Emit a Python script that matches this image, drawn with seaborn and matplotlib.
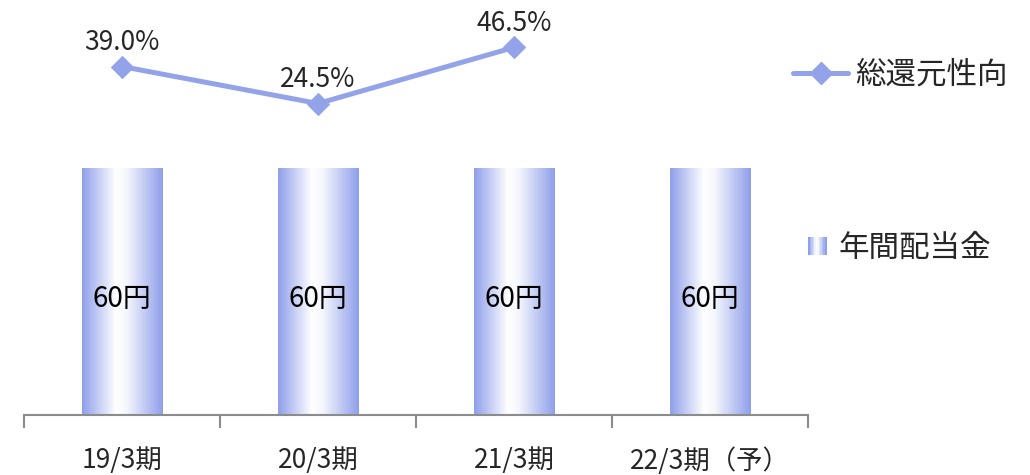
import numpy as np
import pandas as pd
import matplotlib
matplotlib.use("Agg")
import matplotlib.pyplot as plt
import seaborn as sns
from matplotlib.colors import LinearSegmentedColormap
from matplotlib.lines import Line2D
from matplotlib.patches import Rectangle
from matplotlib.legend_handler import HandlerBase

categories = ['19/3期', '20/3期', '21/3期', '22/3期（予）']
dividend = [60, 60, 60, 60]
payout = [39.0, 24.5, 46.5]
dividend_labels = ['60円', '60円', '60円', '60円']
payout_labels = ['39.0%', '24.5%', '46.5%']
series_names = ['総還元性向', '年間配当金']

sns.set_theme(style='white')
plt.rcParams['font.family'] = ['Noto Sans CJK JP', 'DejaVu Sans']

BLUE = '#8f9fea'
LINE = '#93a3ea'
cmap = LinearSegmentedColormap.from_list('g', [(0, BLUE), (0.42, '#ffffff'), (0.55, '#f6f7fd'), (1, BLUE)])

fig = plt.figure(figsize=(10.3, 4.75), dpi=100)
ax = fig.add_axes([24/1030, 60/475, 784/1030, 412/475])

df = pd.DataFrame({'cat': categories, 'val': dividend})
sns.barplot(data=df, x='cat', y='val', ax=ax, width=0.41, color=BLUE, saturation=1)

grad = np.linspace(0, 1, 256).reshape(1, -1)
for p, lab in zip(ax.patches, dividend_labels):
    x, y, w, h = p.get_x(), p.get_y(), p.get_width(), p.get_height()
    im = ax.imshow(grad, cmap=cmap, extent=[x, x + w, y, y + h], aspect='auto', zorder=2)
    im.set_clip_path(p)
    p.set_facecolor('none')
    p.set_edgecolor('none')
    ax.text(x + w / 2, y + h * 0.47, lab, ha='center', va='center', fontsize=20, color='black', zorder=3)

ax.set_xlim(-0.5, len(categories) - 0.5)
ax.set_ylim(0, 100)
ax.set_xlabel('')
ax.set_ylabel('')
ax.set_yticks([])
for s in ['top', 'left', 'right']:
    ax.spines[s].set_visible(False)
ax.spines['bottom'].set_color('#8c8c8c')
ax.spines['bottom'].set_linewidth(1.5)
ax.set_xticks(range(len(categories)))
ax.set_xticklabels(categories, fontsize=19)
ax.tick_params(axis='x', which='major', length=0, pad=23)
ax.set_xticks(np.arange(-0.5, len(categories), 1.0), minor=True)
ax.tick_params(axis='x', which='minor', length=9, width=1.5, color='#8c8c8c', bottom=True)

ax2 = ax.twinx()
sns.lineplot(x=list(range(len(payout))), y=payout, ax=ax2, color=LINE, linewidth=3.6,
             marker='D', markersize=11, markeredgecolor=LINE, markerfacecolor=LINE, legend=False)
ax2.set_ylim(-97.6, 63.9)
ax2.set_xlim(-0.5, len(categories) - 0.5)
ax2.set_yticks([])
ax2.set_ylabel('')
for s in ['top', 'left', 'right', 'bottom']:
    ax2.spines[s].set_visible(False)
for i, (v, lab) in enumerate(zip(payout, payout_labels)):
    ax2.annotate(lab, (i, v), xytext=(0, 17), textcoords='offset points', ha='center', va='center', fontsize=19)


class GradHandler(HandlerBase):
    def create_artists(self, legend, orig_handle, xdescent, ydescent, width, height, fontsize, trans):
        arts = []
        n = 12
        sz = height * 0.85
        x0 = -xdescent
        y0 = -ydescent + (height - sz) / 2
        for k in range(n):
            c = cmap(k / (n - 1))
            r = Rectangle((x0 + k * sz / n, y0), sz / n + 0.3, sz, facecolor=c, edgecolor='none', transform=trans)
            arts.append(r)
        return arts


lh = Line2D([], [], color=LINE, linewidth=3.6, marker='D', markersize=11, markerfacecolor=LINE, markeredgecolor=LINE)
leg1 = fig.legend([lh], [series_names[0]], loc='center left', bbox_to_anchor=(793/1030, 1 - 75/475),
                  frameon=False, fontsize=22, handlelength=1.8, handletextpad=0.25,
                  borderpad=0, borderaxespad=0)
bh = Rectangle((0, 0), 1, 1)
leg2 = fig.legend([bh], [series_names[1]], loc='center left', bbox_to_anchor=(808/1030, 1 - 248/475),
                  frameon=False, fontsize=22, handlelength=0.6, handletextpad=0.4,
                  borderpad=0, borderaxespad=0,
                  handler_map={Rectangle: GradHandler()})

fig.savefig('out.png', dpi=100)
